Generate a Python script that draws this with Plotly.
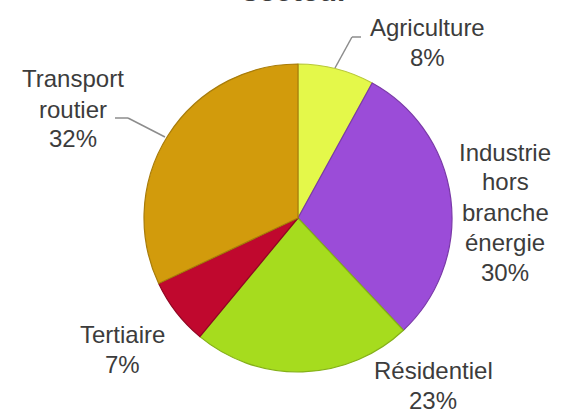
import plotly.graph_objects as go

# répartition par secteur
secteurs = ["Agriculture", "Industrie hors branche énergie", "Résidentiel", "Tertiaire", "Transport routier"]
parts = [8, 30, 23, 7, 32]
couleurs = ["#e4f84a", "#9b4cd8", "#a6dc1e", "#c0082e", "#d29b0c"]
bords = ["#b8c83a", "#7a3aa8", "#84b018", "#900622", "#a87c0a"]

# label text as it is wrapped in the picture
lignes = {
    "Agriculture": ["Agriculture"],
    "Industrie hors branche énergie": ["Industrie", "hors", "branche", "énergie"],
    "Résidentiel": ["Résidentiel"],
    "Tertiaire": ["Tertiaire"],
    "Transport routier": ["Transport", "routier"],
}
# label centres in pixels (first line), and line step
pos = {
    "Agriculture": (427, 28),
    "Industrie hors branche énergie": (505, 152),
    "Résidentiel": (433, 370),
    "Tertiaire": (122, 334),
    "Transport routier": (73, 79),
}
pas = 30

W, H = 561, 414
cx, cy, r = 298, 218, 154

fig = go.Figure()
fig.add_trace(go.Pie(
    labels=secteurs,
    values=parts,
    sort=False,
    direction="clockwise",
    rotation=0,
    textinfo="none",
    hoverinfo="label+percent",
    marker=dict(colors=couleurs, line=dict(color=bords, width=1.2)),
    domain=dict(x=[(cx - r) / W, (cx + r) / W], y=[(H - cy - r) / H, (H - cy + r) / H]),
    showlegend=False,
))

total = sum(parts)
for s, v in zip(secteurs, parts):
    x0, y0 = pos[s]
    txt = lignes[s] + [f"{round(100 * v / total)}%"]
    for i, t in enumerate(txt):
        fig.add_annotation(
            x=x0 / W, y=1 - (y0 + i * pas) / H, xref="paper", yref="paper",
            text=t, showarrow=False, xanchor="center", yanchor="middle",
            font=dict(family="Liberation Sans, Arial", size=24, color="#3c3c3c"),
        )

# leader lines
def px(x, y):
    return x / W, 1 - y / H

for pts in [[(361, 37), (352, 37), (335, 68)], [(115, 118), (128, 118), (165, 137)]]:
    for (xa, ya), (xb, yb) in zip(pts[:-1], pts[1:]):
        a, b = px(xa, ya), px(xb, yb)
        fig.add_shape(type="line", xref="paper", yref="paper",
                      x0=a[0], y0=a[1], x1=b[0], y1=b[1],
                      line=dict(color="#8c8c8c", width=1.5))

# title cut at the top of the picture
fig.add_annotation(x=0.526, y=1.0, xref="paper", yref="paper", yanchor="bottom",
                   yshift=-9.5, text="<b>secteur</b>", showarrow=False,
                   font=dict(family="Liberation Sans, Arial", size=30, color="#3c3c3c"))

fig.update_layout(
    width=W, height=H,
    margin=dict(l=0, r=0, t=0, b=0),
    paper_bgcolor="white",
    plot_bgcolor="white",
)
fig.write_html("out.html", config={"displayModeBar": False},
               post_script="document.body.style.margin='0';")
